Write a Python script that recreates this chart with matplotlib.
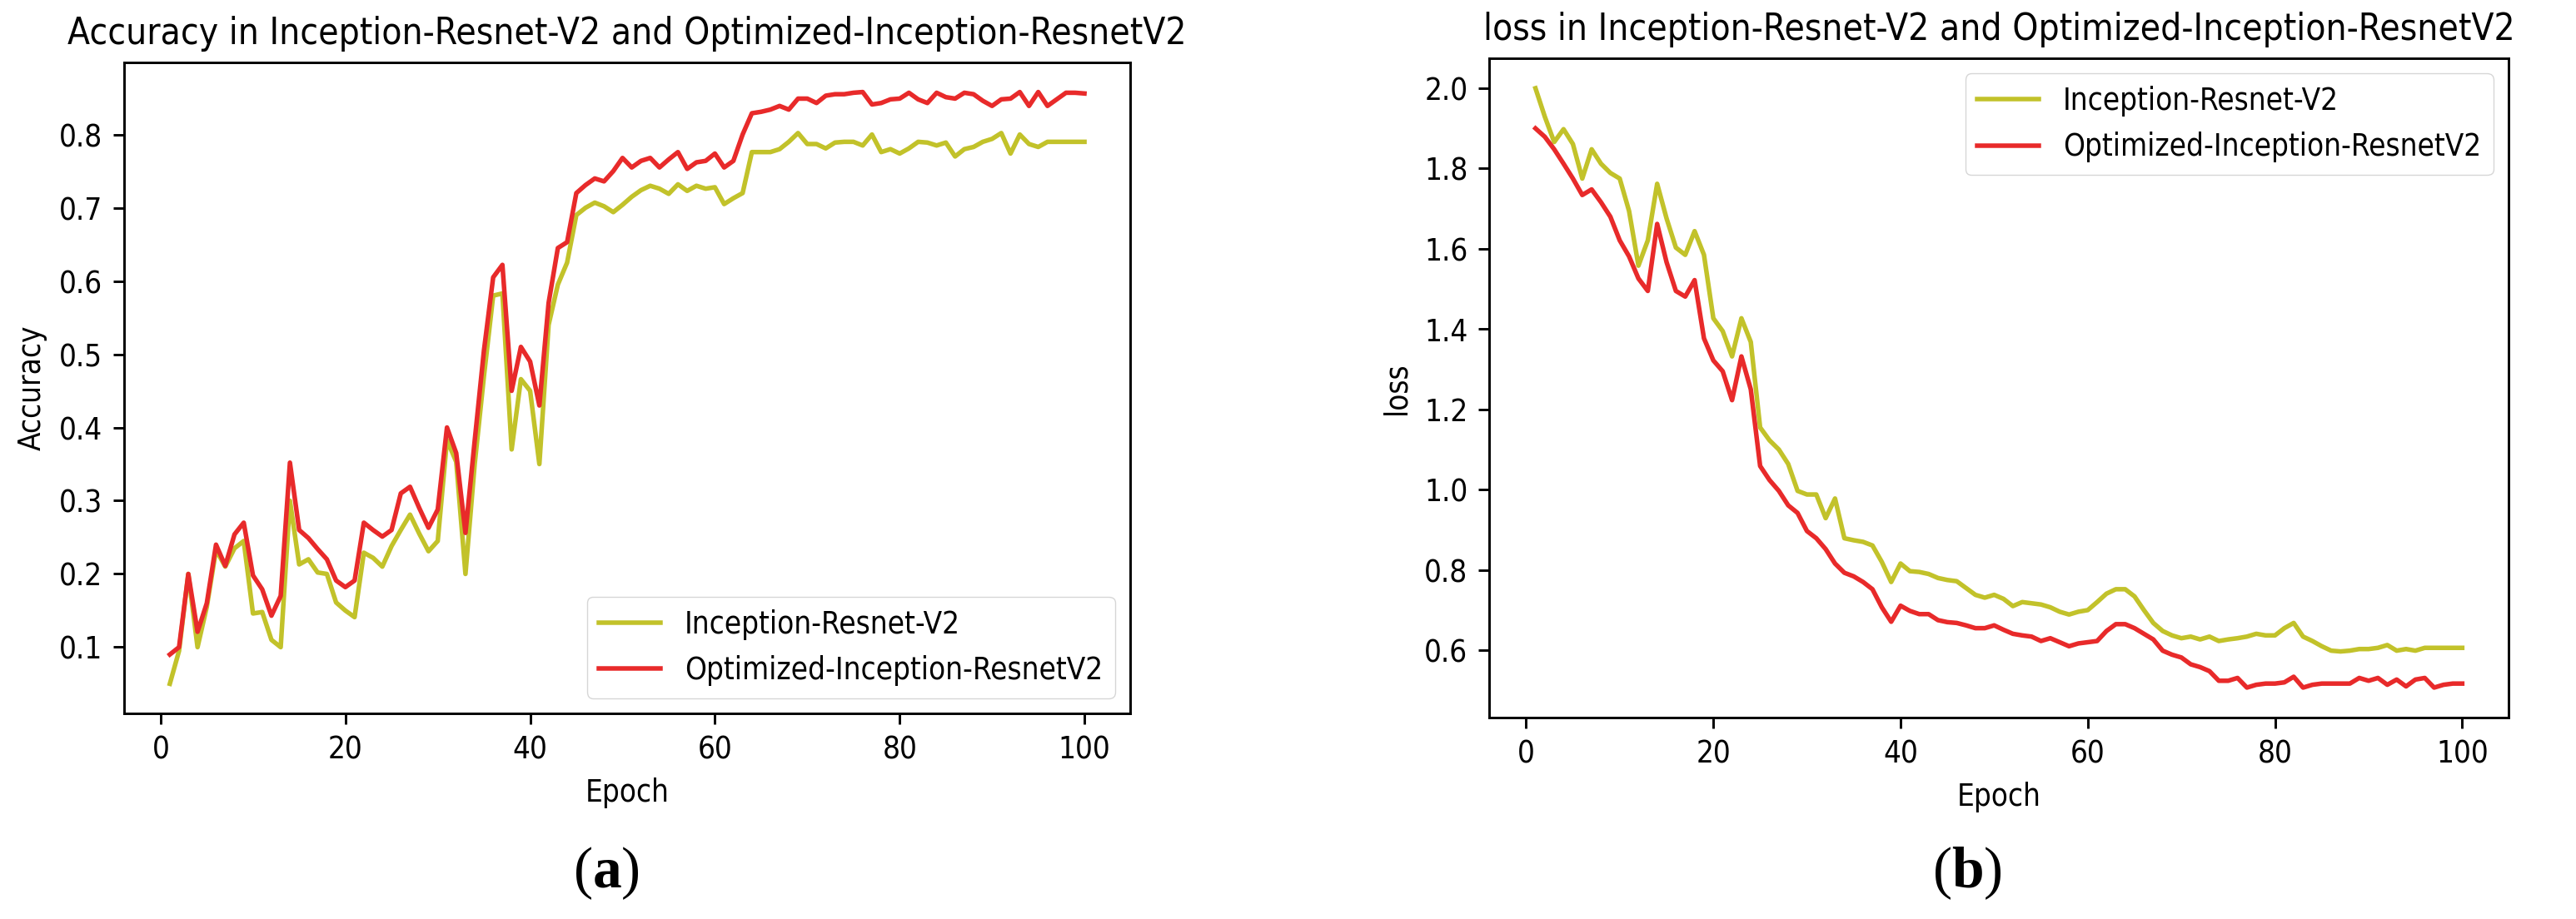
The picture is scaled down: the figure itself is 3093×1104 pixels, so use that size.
import matplotlib
matplotlib.use("Agg")
import matplotlib.pyplot as plt

epochs = list(range(1, 101))

acc_base = [
    0.05, 0.095, 0.20, 0.10, 0.155, 0.233, 0.21, 0.235, 0.245, 0.146,
    0.148, 0.11, 0.10, 0.30, 0.213, 0.22, 0.202, 0.20, 0.161, 0.15,
    0.141, 0.229, 0.222, 0.21, 0.238, 0.26, 0.281, 0.255, 0.231, 0.245,
    0.383, 0.353, 0.20, 0.35, 0.47, 0.58, 0.583, 0.37, 0.466, 0.45,
    0.35, 0.54, 0.595, 0.625, 0.69, 0.70, 0.707, 0.702, 0.694, 0.704,
    0.715, 0.724, 0.73, 0.726, 0.719, 0.732, 0.723, 0.73, 0.726, 0.728,
    0.705, 0.713, 0.72, 0.776, 0.776, 0.776, 0.78, 0.79, 0.802, 0.787,
    0.787, 0.781, 0.789, 0.79, 0.79, 0.785, 0.80, 0.776, 0.78, 0.774,
    0.781, 0.79, 0.789, 0.785, 0.789, 0.77, 0.78, 0.783, 0.79, 0.794,
    0.802, 0.774, 0.80, 0.787, 0.783, 0.79, 0.79, 0.79, 0.79, 0.79,
]

acc_opt = [
    0.09, 0.10, 0.20, 0.121, 0.16, 0.24, 0.211, 0.254, 0.27, 0.198,
    0.179, 0.143, 0.17, 0.352, 0.26, 0.249, 0.234, 0.22, 0.191, 0.182,
    0.191, 0.27, 0.26, 0.251, 0.26, 0.31, 0.319, 0.29, 0.263, 0.288,
    0.40, 0.365, 0.256, 0.382, 0.505, 0.605, 0.622, 0.45, 0.51, 0.49,
    0.43, 0.57, 0.645, 0.653, 0.72, 0.731, 0.74, 0.736, 0.75, 0.768,
    0.755, 0.764, 0.768, 0.755, 0.766, 0.776, 0.753, 0.762, 0.764, 0.774,
    0.755, 0.764, 0.80, 0.829, 0.831, 0.834, 0.839, 0.834, 0.849, 0.849,
    0.843, 0.853, 0.855, 0.855, 0.857, 0.858, 0.841, 0.843, 0.848, 0.849,
    0.857, 0.848, 0.843, 0.857, 0.851, 0.849, 0.857, 0.855, 0.846, 0.839,
    0.848, 0.849, 0.858, 0.839, 0.858, 0.839, 0.848, 0.857, 0.857, 0.856,
]

loss_base = [
    2.0, 1.929, 1.866, 1.898, 1.861, 1.775, 1.848, 1.812, 1.789, 1.775,
    1.694, 1.558, 1.621, 1.762, 1.676, 1.603, 1.585, 1.644, 1.585, 1.427,
    1.395, 1.332, 1.427, 1.368, 1.155, 1.123, 1.10, 1.064, 0.997, 0.988,
    0.988, 0.929, 0.978, 0.879, 0.874, 0.87, 0.861, 0.82, 0.77, 0.816,
    0.797, 0.795, 0.79, 0.78, 0.775, 0.772, 0.755, 0.738, 0.731, 0.738,
    0.728, 0.71, 0.72, 0.717, 0.714, 0.707, 0.696, 0.689, 0.696, 0.70,
    0.72, 0.741, 0.752, 0.752, 0.734, 0.70, 0.668, 0.648, 0.637, 0.63,
    0.634, 0.627, 0.634, 0.623, 0.627, 0.63, 0.634, 0.641, 0.637, 0.637,
    0.655, 0.668, 0.634, 0.623, 0.61, 0.599, 0.597, 0.599, 0.603, 0.603,
    0.606, 0.613, 0.599, 0.603, 0.599, 0.606, 0.606, 0.606, 0.606, 0.606,
]

loss_opt = [
    1.90, 1.879, 1.848, 1.812, 1.775, 1.734, 1.748, 1.716, 1.68, 1.621,
    1.581, 1.526, 1.495, 1.662, 1.567, 1.495, 1.481, 1.522, 1.377, 1.322,
    1.295, 1.223, 1.332, 1.25, 1.059, 1.024, 0.997, 0.961, 0.942, 0.897,
    0.879, 0.852, 0.816, 0.793, 0.784, 0.77, 0.752, 0.707, 0.671, 0.711,
    0.698, 0.69, 0.69, 0.675, 0.67, 0.668, 0.662, 0.655, 0.655, 0.662,
    0.651, 0.641, 0.637, 0.634, 0.623, 0.63, 0.62, 0.61, 0.617, 0.62,
    0.623, 0.648, 0.665, 0.665, 0.655, 0.641, 0.627, 0.599, 0.589, 0.582,
    0.565, 0.558, 0.548, 0.524, 0.524, 0.531, 0.507, 0.514, 0.517, 0.517,
    0.52, 0.534, 0.507, 0.514, 0.517, 0.517, 0.517, 0.517, 0.531, 0.524,
    0.531, 0.514, 0.527, 0.51, 0.527, 0.531, 0.507, 0.514, 0.517, 0.517,
]

label_base = "Inception-Resnet-V2"
label_opt = "Optimized-Inception-ResnetV2"
title_acc = "Accuracy in Inception-Resnet-V2 and Optimized-Inception-ResnetV2"
title_loss = "loss in Inception-Resnet-V2 and Optimized-Inception-ResnetV2"

S = 2.64
plt.rcParams.update({
    "font.family": "DejaVu Sans",
    "font.stretch": "condensed",
    "font.size": 10 * S,
    "axes.linewidth": 0.8 * S,
    "xtick.major.size": 3.5 * S,
    "ytick.major.size": 3.5 * S,
    "xtick.major.width": 0.8 * S,
    "ytick.major.width": 0.8 * S,
    "xtick.major.pad": 3.5 * S,
    "ytick.major.pad": 3.5 * S,
    "lines.linewidth": 1.5 * S,
    "axes.titlepad": 6 * S,
    "legend.fontsize": 10 * S,
    "axes.labelpad": 4 * S,
    "mathtext.fontset": "custom",
    "mathtext.rm": "Liberation Serif",
    "mathtext.bf": "Liberation Serif:bold",
})

C_BASE = "#c2c22a"
C_OPT = "#e82a2a"

fig = plt.figure(figsize=(30.93, 11.04), dpi=100)
ax1 = fig.add_axes([149 / 3093, 1 - 857 / 1104, 1208 / 3093, 782 / 1104])
ax2 = fig.add_axes([1788 / 3093, 1 - 862 / 1104, 1224 / 3093, 792 / 1104])

ax1.plot(epochs, acc_base, color=C_BASE, label=label_base)
ax1.plot(epochs, acc_opt, color=C_OPT, label=label_opt)
ax1.set_title(title_acc, fontsize=12 * S)
ax1.set_xlabel("Epoch")
ax1.set_ylabel("Accuracy")
ax1.legend(loc="lower right")

ax2.plot(epochs, loss_base, color=C_BASE, label=label_base)
ax2.plot(epochs, loss_opt, color=C_OPT, label=label_opt)
ax2.set_title(title_loss, fontsize=12 * S)
ax2.set_xlabel("Epoch")
ax2.set_ylabel("loss")
ax2.legend(loc="upper right")

for ax in (ax1, ax2):
    ax.set_xticks([0, 20, 40, 60, 80, 100])

fig.text(728 / 3093, 1 - 1049 / 1104, r"($\mathbf{a}$)", ha="center", va="center",
         fontsize=50, family="Liberation Serif")
fig.text(2362 / 3093, 1 - 1049 / 1104, r"($\mathbf{b}$)", ha="center", va="center",
         fontsize=50, family="Liberation Serif")

fig.savefig("out.png", dpi=100)
